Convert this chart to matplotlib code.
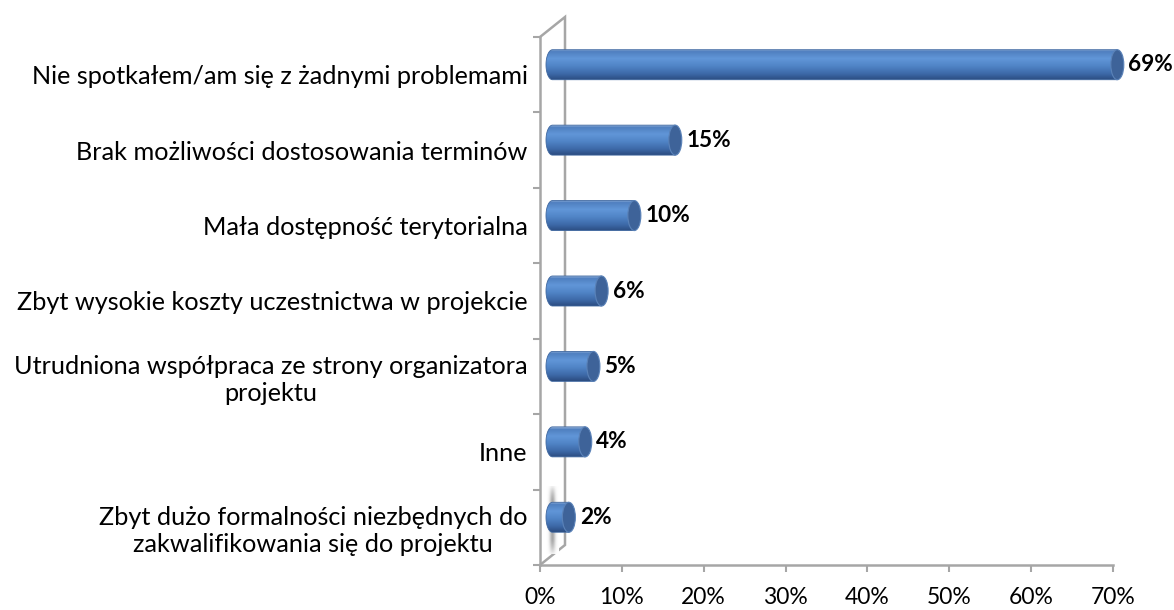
import numpy as np
import matplotlib.pyplot as plt
from matplotlib.colors import LinearSegmentedColormap
from matplotlib.path import Path
from matplotlib.patches import PathPatch, Ellipse

plt.rcParams['font.family'] = ['Lato', 'DejaVu Sans']

categories = [
    "Nie spotkałem/am się z żadnymi problemami",
    "Brak możliwości dostosowania terminów",
    "Mała dostępność terytorialna",
    "Zbyt wysokie koszty uczestnictwa w projekcie",
    "Utrudniona współpraca ze strony organizatora\nprojektu",
    "Inne",
    "Zbyt dużo formalności niezbędnych do\nzakwalifikowania się do projektu",
]
values = [69, 15, 10, 6, 5, 4, 2]
xticks = [0, 10, 20, 30, 40, 50, 60, 70]
xticklabels = [f"{t}%" for t in xticks]

W, H, DPI = 1174, 610, 100
fig = plt.figure(figsize=(W / DPI, H / DPI), dpi=DPI)
# plot area in pixels: x 540..1113, y 37..565 (from top)
ax = fig.add_axes([540 / W, 45 / H, 573 / W, 528 / H])
ax.set_xlim(0, 70)
n = len(categories)
ax.set_ylim(-0.5, n - 0.5)

px_x = 573 / 70          # pixels per data unit in x
px_y = 528 / n           # pixels per category
depth_x = 25 / px_x      # 3d wall depth in data units
depth_y = 20 / px_y
dx, dy = depth_x / 2, depth_y / 2   # bars sit mid-depth

grey = "#a6a6a6"
# back wall
wall_x = [0, depth_x, depth_x, 0]
wall_y = [n - 0.5, n - 0.5 + depth_y, -0.5 + depth_y, -0.5]
ax.plot(wall_x, wall_y, color=grey, lw=1.8, clip_on=False, zorder=1,
        solid_joinstyle="miter")

# faint smudge on the wall next to the lowest bar
sx = np.linspace(-1, 1, 41)
sy = np.linspace(-1, 1, 41)
smudge = np.exp(-(sx[None, :] / 0.45) ** 2) * np.clip(1.2 - np.abs(sy[:, None]) ** 3, 0, 1)
ax.imshow(smudge, cmap=LinearSegmentedColormap.from_list(
    "sm", ["#ffffff", "#a8a8a8"]), aspect="auto", vmin=0, vmax=1,
    extent=(0.7, 2.2, -0.35, 0.55), zorder=2, interpolation="bilinear")

# cylinder shading, top -> bottom
shade = LinearSegmentedColormap.from_list(
    "cyl", [(0.0, "#9ab8e0"), (0.07, "#4f7fbf"), (0.3, "#6196d8"),
            (0.55, "#5084c6"), (0.8, "#3d69a8"), (1.0, "#2b4c80")])
grad = np.linspace(0, 1, 128).reshape(-1, 1)

bar_h = 30 / px_y
cap_a = 6.5 / px_x       # half width of end ellipse

for i, (cat, v) in enumerate(zip(categories, values)):
    yc = n - 1 - i + dy
    yt, yb = yc + bar_h / 2, yc - bar_h / 2
    xl, xr = dx, v + dx
    th = np.linspace(1.5 * np.pi, 0.5 * np.pi, 60)
    arc_x = xl + cap_a * np.cos(th)
    arc_y = yc + (bar_h / 2) * np.sin(th)
    verts = np.vstack([[[xl, yt], [xr, yt], [xr, yb], [xl, yb]],
                       np.column_stack([arc_x, arc_y]), [[xl, yt]]])
    body = Path(verts, closed=True)
    im = ax.imshow(grad, cmap=shade, aspect="auto", origin="upper",
                   extent=(xl - cap_a, xr, yb, yt), zorder=3,
                   interpolation="bilinear")
    im.set_clip_box(fig.bbox)
    im.set_clip_path(body, transform=ax.transData)
    ax.add_patch(PathPatch(body, fill=False, ec="#3f679f", lw=0.6, zorder=4,
                           clip_on=False))
    ax.add_patch(Ellipse((xr, yc), 2 * cap_a, bar_h, fc="#3e6399",
                         ec="#5a82b8", lw=0.8, zorder=5, clip_on=False))
    ax.annotate(f"{v}%", xy=(xr, yc), xytext=(8, 0), textcoords="offset points",
                ha="left", va="center", fontsize=16.3, fontweight="bold",
                color="black", zorder=6, annotation_clip=False)

ax.set_xlim(0, 70)
ax.set_ylim(-0.5, n - 0.5)

for s in ["top", "right"]:
    ax.spines[s].set_visible(False)
for s in ["left", "bottom"]:
    ax.spines[s].set_color(grey)
    ax.spines[s].set_linewidth(1.8)

ax.set_xticks(xticks)
ax.set_xticklabels(xticklabels, fontsize=16.5)
ax.tick_params(axis="x", direction="out", length=5, width=1.5, color=grey, pad=11)

ax.set_yticks(np.arange(-0.5, n, 1.0))
ax.set_yticklabels([])
ax.set_yticks(np.arange(n), minor=True)
ax.set_yticklabels(categories[::-1], minor=True, fontsize=18.2,
                   multialignment="center")
ax.tick_params(axis="y", which="major", direction="out", length=5, width=1.5,
               color=grey)
ax.tick_params(axis="y", which="minor", length=0, pad=9)

fig.savefig("out.png", dpi=DPI)
